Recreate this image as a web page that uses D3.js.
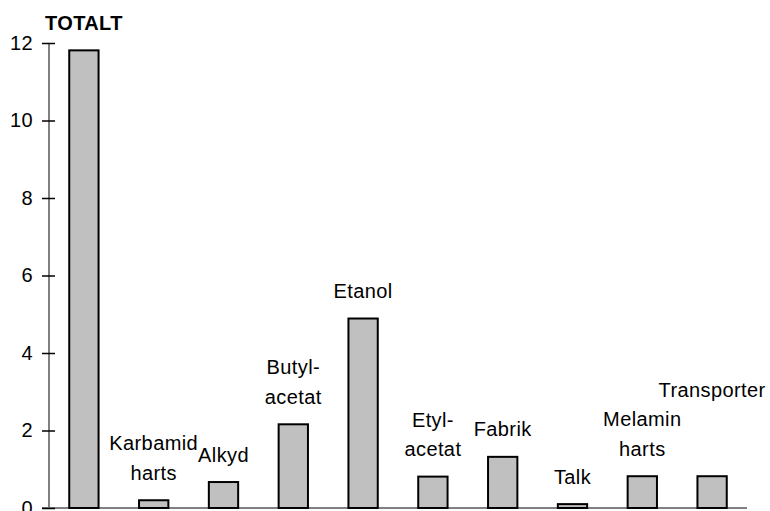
<!DOCTYPE html>
<html>
<head>
<meta charset="utf-8">
<script src="https://cdn.jsdelivr.net/npm/d3@7"></script>
<style>
  html, body { margin: 0; padding: 0; background: #fff; }
  svg { display: block; }
  text { font-family: "Liberation Sans", Arial, sans-serif; fill: #000; }
</style>
</head>
<body>
<svg id="chart" width="770" height="511"></svg>
<script>
// ---- data ----
const categories = ["TOTALT", "Karbamid harts", "Alkyd", "Butyl-acetat", "Etanol",
                    "Etyl-acetat", "Fabrik", "Talk", "Melamin harts", "Transporter"];
const values = [11.81, 0.20, 0.67, 2.16, 4.89, 0.81, 1.32, 0.10, 0.82, 0.82];
const labelLines = [["TOTALT"], ["Karbamid", "harts"], ["Alkyd"], ["Butyl-", "acetat"], ["Etanol"],
                    ["Etyl-", "acetat"], ["Fabrik"], ["Talk"], ["Melamin", "harts"], ["Transporter", "", ""]];
const boldLabels = ["TOTALT"];
const yTicks = [0, 2, 4, 6, 8, 10, 12];

// ---- layout ----
const svg = d3.select("#chart");
const plotLeft = 49, plotRight = 747, plotTop = 43, plotBottom = 508;
const fontSize = 20, lineH = 29.5, labelGap = 20.5;

const x = d3.scaleBand().domain(categories).range([plotLeft, plotRight])
  .paddingInner(0.58).paddingOuter(0.29);
const y = d3.scaleLinear().domain([0, 12]).range([plotBottom, plotTop]);

// axis lines (gray)
svg.append("line").attr("x1", plotLeft).attr("x2", plotLeft).attr("y1", y(12)).attr("y2", y(0))
  .attr("stroke", "#808080").attr("stroke-width", 2);
svg.append("line").attr("x1", plotLeft - 7).attr("x2", plotRight).attr("y1", y(0)).attr("y2", y(0))
  .attr("stroke", "#808080").attr("stroke-width", 2);

// y axis via d3.axisLeft, then styled
const yAxis = svg.append("g").attr("transform", `translate(${plotLeft},0)`)
  .call(d3.axisLeft(y).tickValues(yTicks).tickSize(0).tickPadding(16).tickFormat(d3.format("d")));
yAxis.select(".domain").remove();
yAxis.selectAll("text").attr("font-size", fontSize).attr("font-family", "'Liberation Sans', Arial, sans-serif")
  .attr("fill", "#000").attr("letter-spacing", "0.4px");
yAxis.selectAll(".tick").append("line").attr("x1", -7).attr("x2", 6).attr("y1", 0).attr("y2", 0)
  .attr("stroke", "#000").attr("stroke-width", 1.5);

// bars
const data = categories.map((c, i) => ({ c, v: values[i], lines: labelLines[i] }));
svg.append("g").selectAll("rect").data(data).join("rect")
  .attr("x", d => x(d.c))
  .attr("width", x.bandwidth())
  .attr("y", d => y(d.v))
  .attr("height", d => y(0) - y(d.v))
  .attr("fill", "#c0c0c0")
  .attr("stroke", "#000")
  .attr("stroke-width", 2);

// labels above bars
const lab = svg.append("g").selectAll("text").data(data).join("text")
  .attr("text-anchor", "middle")
  .attr("font-size", fontSize)
  .attr("letter-spacing", "0.4px")
  .attr("font-weight", d => boldLabels.includes(d.c) ? "bold" : "normal")
  .attr("x", d => x(d.c) + x.bandwidth() / 2);
lab.each(function (d) {
  const n = d.lines.length;
  d3.select(this).selectAll("tspan").data(d.lines).join("tspan")
    .attr("x", x(d.c) + x.bandwidth() / 2)
    .attr("y", (t, i) => y(d.v) - labelGap - (n - 1 - i) * lineH)
    .text(t => t);
});
</script>
</body>
</html>
